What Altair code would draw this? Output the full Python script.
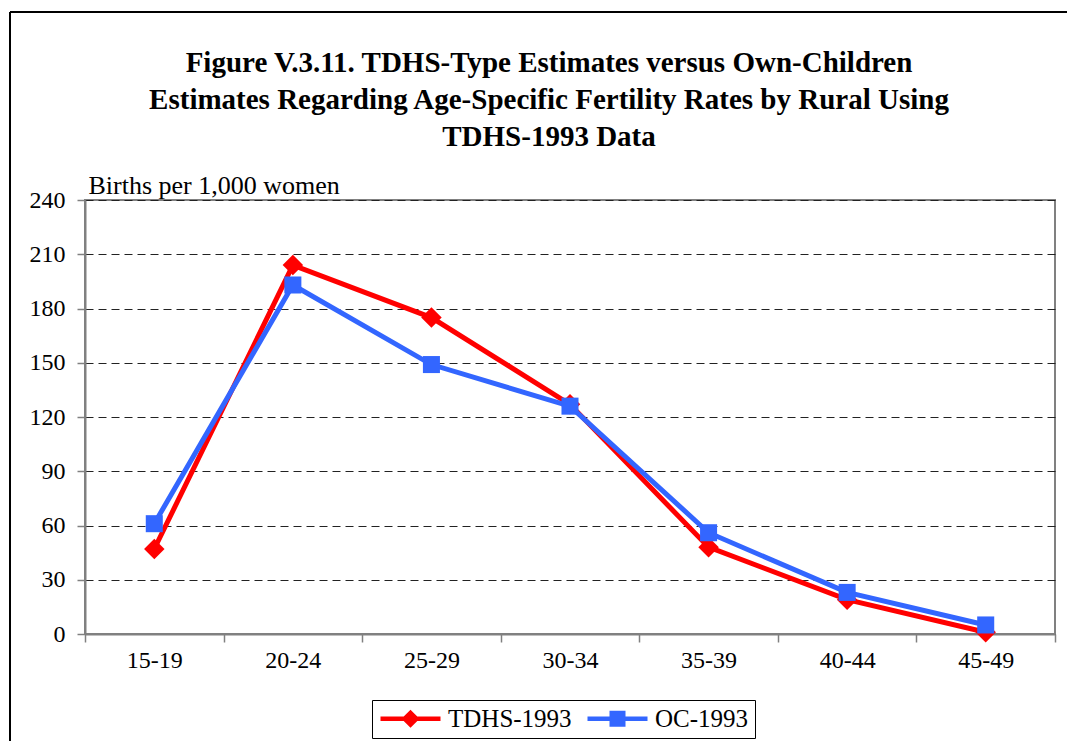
import altair as alt
import pandas as pd

ages = ["15-19", "20-24", "25-29", "30-34", "35-39", "40-44", "45-49"]
tdhs = [47, 204, 175, 127, 48, 19, 1]
oc = [61, 193, 149, 126, 56, 23, 5]
series = ["TDHS-1993", "OC-1993"]
colors = ["#FF0000", "#3366FF"]
y_ticks = [0, 30, 60, 90, 120, 150, 180, 210, 240]
title_lines = [
    "Figure V.3.11. TDHS-Type Estimates versus Own-Children",
    "Estimates Regarding Age-Specific Fertility Rates by Rural Using",
    "TDHS-1993 Data",
]
y_title = "Births per 1,000 women"

FONT = "Liberation Serif"

rows = []
for a, t, o in zip(ages, tdhs, oc):
    rows.append({"age": a, "series": series[0], "value": t})
    rows.append({"age": a, "series": series[1], "value": o})
df = pd.DataFrame(rows)

x_enc = alt.X(
    "age:N",
    sort=ages,
    bandPosition=0.5,
    scale=alt.Scale(type="band", domain=ages, paddingInner=0, paddingOuter=0),
    axis=alt.Axis(
        title=None,
        labelAngle=0,
        labelFont=FONT,
        labelFontSize=24,
        labelColor="black",
        labelPadding=6,
        tickBand="extent",
        tickSize=8,
        tickColor="#808080",
        tickWidth=1.5,
        domainColor="#808080",
        domainWidth=2,
        grid=False,
    ),
)
y_enc = alt.Y(
    "value:Q",
    scale=alt.Scale(domain=[0, 240], nice=False, zero=True),
    axis=alt.Axis(
        values=y_ticks,
        title=y_title,
        titleAngle=0,
        titleAlign="left",
        titleBaseline="alphabetic",
        titleX=3,
        titleY=-7,
        titleFont=FONT,
        titleFontSize=26,
        titleFontWeight="normal",
        titleColor="black",
        labelFont=FONT,
        labelFontSize=24,
        labelColor="black",
        labelPadding=12,
        tickSize=8,
        tickColor="#808080",
        tickWidth=1.5,
        domainColor="#808080",
        domainWidth=2,
        grid=True,
        gridColor="#222222",
        gridDash=[8, 5],
        gridWidth=1,
    ),
)

base = alt.Chart(df)
one = pd.DataFrame({"k": [0]})

# outer figure frame (left and top edges; the others lie outside the page)
frame_top = alt.Chart(one).mark_rule(stroke="black", strokeWidth=2).encode(
    x=alt.value(-75), x2=alt.value(1000), y=alt.value(-188)
)
frame_left = alt.Chart(one).mark_rule(stroke="black", strokeWidth=2).encode(
    x=alt.value(-75), y=alt.value(-188), y2=alt.value(600)
)

layers = [frame_top, frame_left]
shapes = ["diamond", "square"]
sizes = [420, 290]
for s, c, sh, sz in zip(series, colors, shapes, sizes):
    sub = base.transform_filter(alt.datum.series == s)
    layers.append(sub.mark_line(color=c, strokeWidth=5).encode(x=x_enc, y=y_enc))
    layers.append(
        sub.mark_point(filled=True, shape=sh, size=sz, color=c, opacity=1, strokeWidth=0).encode(
            x=x_enc, y=y_enc
        )
    )

# legend symbols: line segment with marker (unit r = 10 px, spans 60 px)
diamond_path = ("M-1,-0.22 L1.32,-0.22 L2,-0.9 L2.68,-0.22 L5,-0.22 L5,0.22 "
                "L2.68,0.22 L2,0.9 L1.32,0.22 L-1,0.22 Z")
square_path = ("M-1,-0.22 L1.2,-0.22 L1.2,-0.8 L2.8,-0.8 L2.8,-0.22 L5,-0.22 "
               "L5,0.22 L2.8,0.22 L2.8,0.8 L1.2,0.8 L1.2,0.22 L-1,0.22 Z")

legend_props = dict(
    title=None,
    orient="none",
    legendX=287,
    legendY=500,
    direction="horizontal",
    strokeColor="black",
    padding=6,
    labelFont=FONT,
    labelFontSize=25,
    labelColor="black",
    labelOffset=45,
    columnPadding=13,
    symbolSize=400,
    symbolStrokeWidth=0,
    symbolOpacity=1,
)

legend_layer = alt.Chart(pd.DataFrame({"series": series})).mark_point(
    filled=True, opacity=1, clip=True, strokeWidth=0
).encode(
    x=alt.value(-2000),
    y=alt.value(-2000),
    color=alt.Color(
        "series:N",
        scale=alt.Scale(domain=series, range=colors),
        legend=alt.Legend(**legend_props),
    ),
    shape=alt.Shape(
        "series:N",
        scale=alt.Scale(domain=series, range=[diamond_path, square_path]),
        legend=alt.Legend(**legend_props),
    ),
)
layers.append(legend_layer)

chart = alt.layer(*layers).properties(
    width=970,
    height=434,
    padding={"left": 77, "top": 192, "right": 12, "bottom": 107},
    autosize=alt.AutoSizeParams(type="none"),
    background="white",
    title=alt.TitleParams(
        text=title_lines,
        font=FONT,
        fontSize=29,
        fontWeight="bold",
        color="black",
        lineHeight=37,
        anchor="middle",
        dx=-21,
        offset=-141,
    ),
).configure_view(stroke="#808080", strokeWidth=2)

chart.save("out.html", embed_options={"renderer": "svg", "actions": False})
